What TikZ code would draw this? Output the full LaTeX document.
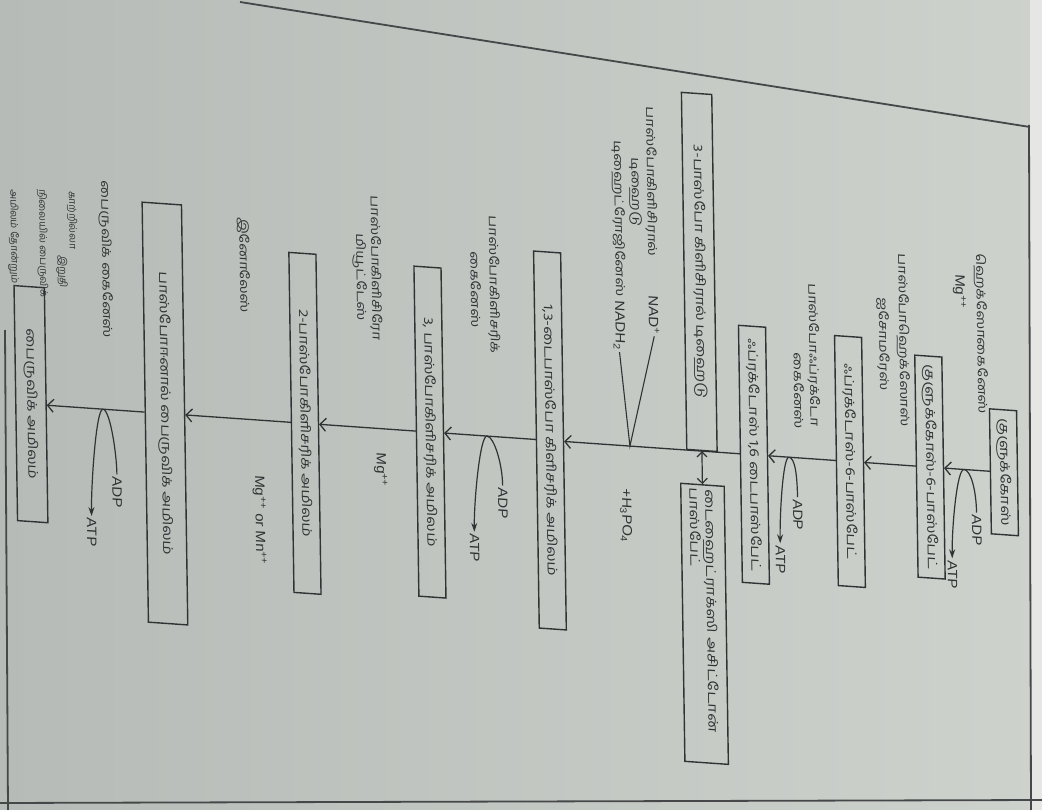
\documentclass[tikz,border=0pt]{standalone}
\usepackage{fontspec}
\setmainfont{Liberation Sans}
\newfontfamily\ta[Script=Tamil]{Hind Madurai}
\usetikzlibrary{arrows.meta}
\definecolor{paperL}{RGB}{206,210,205}
\definecolor{paperD}{RGB}{182,187,183}
\definecolor{ink}{RGB}{48,51,52}
\definecolor{edge}{RGB}{230,231,228}
\begin{document}
\begin{tikzpicture}[x=1pt,y=-1pt,
  every node/.style={text=ink},
  box/.style={draw=ink, line width=1.4pt, rotate=-90, yscale=0.82, font=\ta\fontsize{16}{19}\selectfont, minimum height=33pt, inner sep=2pt},
  lbl/.style={rotate=-90, yscale=0.82, inner sep=1pt, font=\ta\fontsize{15}{17}\selectfont},
  note/.style={rotate=-90, inner sep=1pt, font=\ta\fontsize{10}{12}\selectfont},
  lat/.style={rotate=-90, yscale=0.9, inner sep=2pt, font=\fontsize{15}{17}\selectfont},
  flow/.style={draw=ink, line width=1.3pt, -{Straight Barb[length=6pt,width=13pt]}},
  twin/.style={draw=ink, line width=1.2pt, {Straight Barb[length=5pt,width=10pt]}-{Straight Barb[length=5pt,width=10pt]}},
  curl/.style={draw=ink, line width=1.2pt, -{Stealth[length=9pt,width=6pt]}},
  vee/.style={draw=ink, line width=1.1pt},
  page/.style={draw=ink!90, line width=1.8pt}
]
\useasboundingbox (0,0) rectangle (1042,810);
\shade[left color=paperD, right color=paperL] (0,0) rectangle (1042,810);
\fill[edge] (1030,0) rectangle (1042,810);
\draw[page] (240,2) -- (1030,127);
\draw[page] (1029,125) -- (1031,810);
\draw[page] (5,330) -- (8,810);
\draw[page] (0,803) -- (1042,800);

\begin{scope}[shift={(500,440)}, cm={1,-0.07,-0.015,1,(0,0)}, shift={(-500,-440)}, transform shape]
% boxes
\node[box, minimum width=125pt] (glc) at (1004,437) {குளுக்கோஸ்};
\node[box, minimum width=222pt] (g6p) at (930,437) {குளுக்கோஸ்-6-பாஸ்பேட்};
\node[box, minimum width=250pt] (f6p) at (850,437) {ஃப்ரக்டோஸ்-6-பாஸ்பேட்};
\node[box, minimum width=257pt] (f16) at (754,437) {ஃப்ரக்டோஸ் 1,6 டைபாஸ்பேட்};
\node[box, minimum width=357pt, minimum height=37pt, anchor=east] (gap) at (702,437) {3-பாஸ்போ கிளிசிரால் டிஹைடு};
\node[box, text width=270pt, minimum height=53pt, anchor=west, align=left, inner sep=4pt] (dhap) at (702,470) {டைஹைட்ராக்ஸி அசிட்டோன்\\பாஸ்பேட்};
\node[box, minimum width=377pt] (dpga) at (550,437) {1,3-டைபாஸ்போ கிளிசரிக் அமிலம்};
\node[box, minimum width=330pt] (pga3) at (430,437) {3, பாஸ்போகிளிசரிக் அமிலம்};
\node[box, minimum width=340pt] (pga2) at (305,437) {2-பாஸ்போகிளிசரிக் அமிலம்};
\node[box, minimum width=420pt, minimum height=48pt] (pep) at (165,437) {பாஸ்போஈனால் பைருவிக் அமிலம்};
\node[box, minimum width=235pt, minimum height=37pt] (pyr) at (31,437) {பைருவிக் அமிலம்};

% main flow
\draw[flow] (glc.south) -- (g6p.north);
\draw[flow] (g6p.south) -- (f6p.north);
\draw[flow] (f6p.south) -- (f16.north);
\draw[flow] (f16.south) -- (dpga.north);
\draw[flow] (dpga.south) -- (pga3.north);
\draw[flow] (pga3.south) -- (pga2.north);
\draw[flow] (pga2.south) -- (pep.north);
\draw[flow] (pep.south) -- (pyr.north);
\draw[twin] (gap.east) -- (dhap.west);

% step 1
\node[lbl] (hexo) at (983,300) {ஹெக்ஸோகைனேஸ்};
\node[lat] (mg1) at (962,259) {Mg\textsuperscript{++}};
\node[lat] (adp1) at (976,497) {ADP};
\node[lat] (atp1) at (951,543) {ATP};
\coordinate (k1) at (964,437);
\draw[curl] (adp1.west) .. controls +(0,-22) and +(7,0) .. (k1) .. controls +(-7,0) and +(0,-30) .. (atp1.west);

% step 2
\node[lbl] (iso1) at (905,312) {பாஸ்போஹெக்ஸோஸ்};
\node[lbl] (iso2) at (885,317) {ஐசோமரேஸ்};

% step 3
\node[lbl] (pfk1) at (815,333) {பாஸ்போஃப்ரக்டோ};
\node[lbl] (pfk2) at (800,370) {கைனேஸ்};
\node[lat] (adp2) at (797,494) {ADP};
\node[lat] (atp2) at (779,540) {ATP};
\coordinate (k2) at (789,437);
\draw[curl] (adp2.west) .. controls +(0,-22) and +(6,0) .. (k2) .. controls +(-6,0) and +(0,-30) .. (atp2.west);

% step 5
\node[lbl] (dh1) at (655,171) {பாஸ்போகிளிசிரால்};
\node[lbl] (dh2) at (639,182) {டிஹைடு};
\node[lbl] (dh3) at (622,210) {டிஹைட்ரோஜினேஸ்};
\node[lat] (nad) at (656,304) {NAD\textsuperscript{+}};
\node[lat] (nadh) at (621,317) {NADH\textsubscript{2}};
\coordinate (vx) at (630,437);
\draw[vee] (nad.east) -- (vx) -- (nadh.east);
\node[lat] (hpo) at (625,507) {+H\textsubscript{3}PO\textsubscript{4}};

% step 6
\node[lbl] (pgk1) at (496,285) {பாஸ்போகிளிசரிக்};
\node[lbl] (pgk2) at (478,291) {கைனேஸ்};
\node[lat] (adp3) at (502,503) {ADP};
\node[lat] (atp3) at (473,550) {ATP};
\coordinate (k3) at (487,437);
\draw[curl] (adp3.west) .. controls +(0,-22) and +(7,0) .. (k3) .. controls +(-7,0) and +(0,-30) .. (atp3.west);

% step 7
\node[lbl] (pgm1) at (378,277) {பாஸ்போகிளிசிரோ};
\node[lbl] (pgm2) at (362,287) {மியூட்டேஸ்};
\node[lat] (mg2) at (380,478) {Mg\textsuperscript{++}};

% step 8
\node[lbl] (eno) at (246,283) {இனோலேஸ்};
\node[lat] (mgmn) at (258,537) {Mg\textsuperscript{++} or Mn\textsuperscript{++}};

% step 9
\node[lbl] (pk1) at (108,287) {பைருவிக் கைனேஸ்};
\node[lat] (adp4) at (116,519) {ADP};
\node[lat] (atp4) at (90,561) {ATP};
\coordinate (k4) at (103,437);
\draw[curl] (adp4.west) .. controls +(0,-22) and +(7,0) .. (k4) .. controls +(-7,0) and +(0,-30) .. (atp4.west);

% note
\node[note, anchor=west] (n1) at (75,220) {காற்றில்லா};
\node[note] (n2) at (64,302) {இறுதி};
\node[note, anchor=west] (n3) at (45,220) {நிலையில் பைருவிக்};
\node[note, anchor=west] (n4) at (16,222) {அமிலம் தோன்றும்};
\end{scope}
\end{tikzpicture}
\end{document}
